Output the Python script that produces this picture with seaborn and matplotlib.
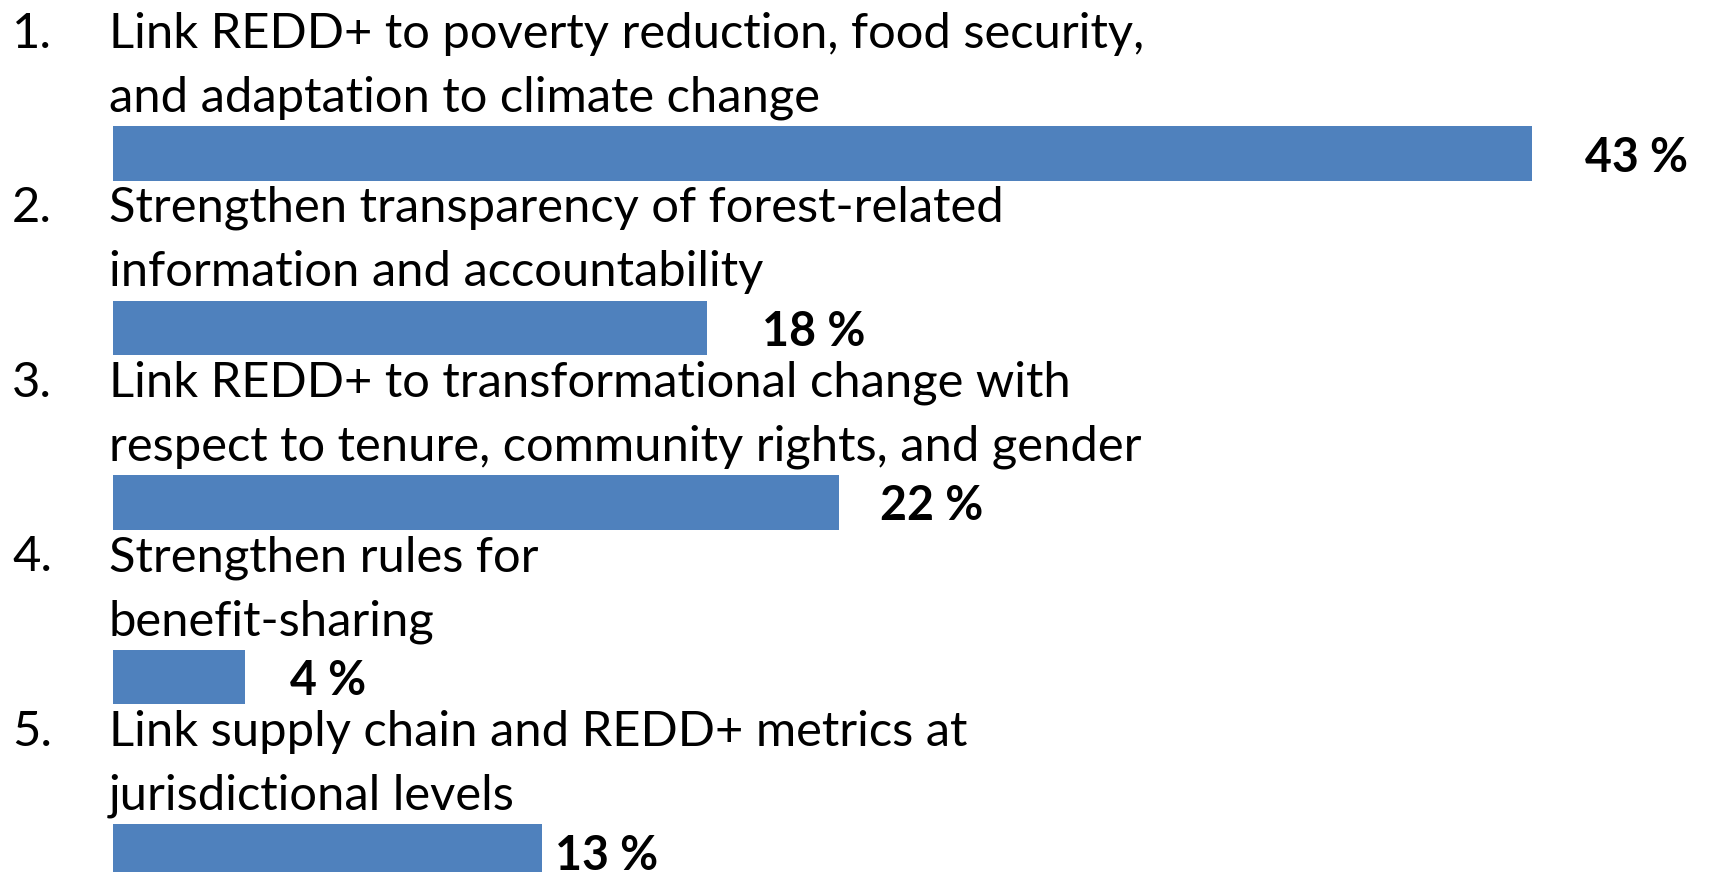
import matplotlib
matplotlib.use("Agg")
import matplotlib.pyplot as plt
import seaborn as sns
import pandas as pd

# data
numbers = ["1.", "2.", "3.", "4.", "5."]
line_one = [
    "Link REDD+ to poverty reduction, food security,",
    "Strengthen transparency of forest-related",
    "Link REDD+ to transformational change with",
    "Strengthen rules for",
    "Link supply chain and REDD+ metrics at",
]
line_two = [
    "and adaptation to climate change",
    "information and accountability",
    "respect to tenure, community rights, and gender",
    "benefit-sharing",
    "jurisdictional levels",
]
percent = [43, 18, 22, 4, 13]

bar_color = "#4F81BD"
fam = ["Lato", "DejaVu Sans"]

df = pd.DataFrame({"item": numbers, "percent": percent})

sns.set_style("white")
plt.rcParams["font.family"] = fam
plt.rcParams["text.color"] = "black"

fig = plt.figure(figsize=(17.12, 8.72), dpi=100)
ax = fig.add_axes([0, 0, 1, 1])

sns.barplot(data=df, x="percent", y="item", orient="h", color=bar_color,
            saturation=1, width=0.315, linewidth=0, ax=ax)

# pixel-based layout: 0 % at x=112.5 px, 33 px per percent
px_per_pct = 33.0
ax.set_xlim(-112.5 / px_per_pct, (1712 - 112.5) / px_per_pct)
ax.set_ylim((872 - 153.5) / 174.5, -153.5 / 174.5)
ax.axis("off")

label_pad = [53, 55, 41, 45, 13]  # gap between bar end and value label, px

for i, v in enumerate(percent):
    ax.annotate(numbers[i], xy=(12 / 1712, i), xycoords=("axes fraction", "data"),
                xytext=(0, 106), textcoords="offset pixels", color="black",
                fontsize=35.2, va="baseline", ha="left", family=fam)
    ax.annotate(line_one[i], xy=(109 / 1712, i), xycoords=("axes fraction", "data"),
                xytext=(0, 106), textcoords="offset pixels", color="black",
                fontsize=35.2, va="baseline", ha="left", family=fam)
    ax.annotate(line_two[i], xy=(109 / 1712, i), xycoords=("axes fraction", "data"),
                xytext=(0, 42), textcoords="offset pixels", color="black",
                fontsize=35.2, va="baseline", ha="left", family=fam)
    ax.annotate(f"{v} %", xy=(v, i), xycoords="data",
                xytext=(label_pad[i], -18), textcoords="offset pixels", color="black",
                fontsize=33.5, fontweight="bold", va="baseline", ha="left", family=fam)

fig.savefig("out.png", dpi=100)
